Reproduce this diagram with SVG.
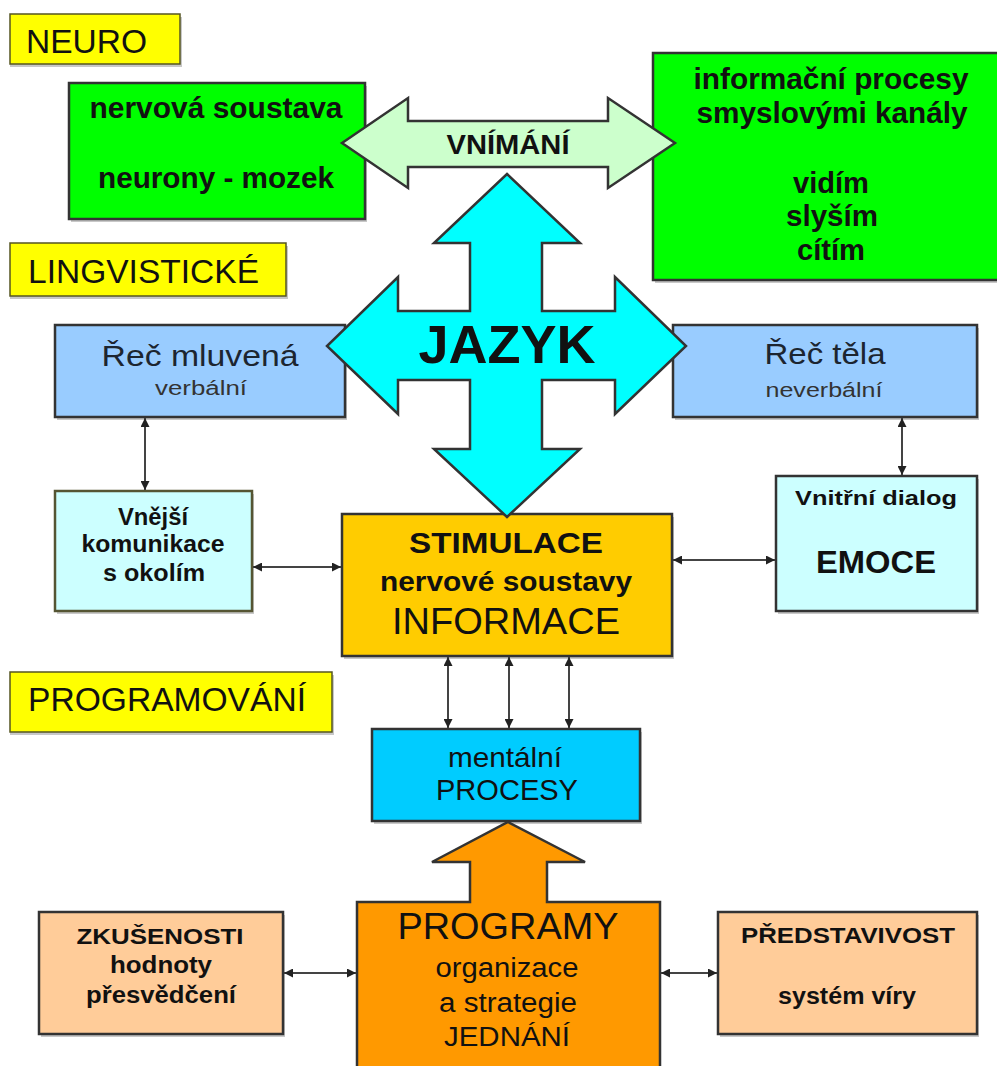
<svg xmlns="http://www.w3.org/2000/svg" width="997" height="1066" viewBox="0 0 997 1066">
<style>
text{font-family:"Liberation Sans",Arial,sans-serif;fill:#111;}
.c{text-anchor:middle;}
.b{font-weight:bold;}
.box{stroke:#333;stroke-width:2.5;}
.lbl{stroke:#555522;stroke-width:1.5;fill:#ffff00;}
.sh{fill:#c8c8c8;}
.con{stroke:#444;stroke-width:2;fill:none;marker-start:url(#ah);marker-end:url(#ah);}
.shape{stroke:#333;stroke-width:2.5;stroke-linejoin:miter;}
</style>
<defs>
<marker id="ah" markerUnits="userSpaceOnUse" markerWidth="9" markerHeight="9" refX="9" refY="4.5" orient="auto-start-reverse">
<path d="M0,0 L9,4.5 L0,9 z" fill="#222"/>
</marker>
</defs>
<rect width="997" height="1066" fill="#fff"/>

<g id="neuro">
<rect class="sh" x="10" y="17" width="172" height="50"/>
<rect class="lbl" x="10" y="14" width="170" height="50"/>
<text x="26" y="53" font-size="33" textLength="121" lengthAdjust="spacingAndGlyphs">NEURO</text>
</g>

<g id="lingvisticke">
<rect class="sh" x="10" y="246" width="278" height="53"/>
<rect class="lbl" x="10" y="243" width="276" height="53"/>
<text x="28" y="283" font-size="33" textLength="231" lengthAdjust="spacingAndGlyphs">LINGVISTICKÉ</text>
</g>

<g id="programovani">
<rect class="sh" x="10" y="675" width="324" height="60"/>
<rect class="lbl" x="10" y="672" width="322" height="60"/>
<text x="28" y="711" font-size="33" textLength="278" lengthAdjust="spacingAndGlyphs">PROGRAMOVÁNÍ</text>
</g>

<g id="nervova">
<rect class="sh" x="71" y="86" width="296" height="136"/>
<rect class="box" x="69" y="83" width="296" height="136" fill="#00ff00"/>
<text class="c b" x="216" y="118" font-size="29" textLength="253" lengthAdjust="spacingAndGlyphs">nervová soustava</text>
<text class="c b" x="216" y="188" font-size="29" textLength="236" lengthAdjust="spacingAndGlyphs">neurony - mozek</text>
</g>

<g id="informacni">
<rect class="sh" x="655" y="56" width="350" height="227"/>
<rect class="box" x="653" y="53" width="350" height="227" fill="#00ff00"/>
<text class="c b" x="831" y="89" font-size="29" textLength="275" lengthAdjust="spacingAndGlyphs">informační procesy</text>
<text class="c b" x="832" y="123" font-size="29" textLength="271" lengthAdjust="spacingAndGlyphs">smyslovými kanály</text>
<text class="c b" x="831" y="193" font-size="29" textLength="76" lengthAdjust="spacingAndGlyphs">vidím</text>
<text class="c b" x="832" y="226" font-size="29" textLength="92" lengthAdjust="spacingAndGlyphs">slyším</text>
<text class="c b" x="831" y="260" font-size="29" textLength="68" lengthAdjust="spacingAndGlyphs">cítím</text>
</g>

<g id="rec-mluvena">
<rect class="sh" x="57" y="328" width="290" height="92"/>
<rect class="box" x="55" y="325" width="290" height="92" fill="#99ccff"/>
<text class="c" x="200" y="366" font-size="30" textLength="197" lengthAdjust="spacingAndGlyphs" style="fill:#1c2530">Řeč mluvená</text>
<text class="c" x="201" y="395" font-size="20" textLength="92" lengthAdjust="spacingAndGlyphs" style="fill:#333">verbální</text>
</g>

<g id="rec-tela">
<rect class="sh" x="675" y="328" width="304" height="92"/>
<rect class="box" x="673" y="325" width="304" height="92" fill="#99ccff"/>
<text class="c" x="825" y="364" font-size="30" textLength="121" lengthAdjust="spacingAndGlyphs" style="fill:#1c2530">Řeč těla</text>
<text class="c" x="824" y="397" font-size="20" textLength="117" lengthAdjust="spacingAndGlyphs" style="fill:#333">neverbální</text>
</g>

<g id="vnejsi">
<rect class="sh" x="57" y="494" width="197" height="120"/>
<rect x="55" y="491" width="197" height="120" fill="#ccffff" stroke="#555533" stroke-width="2.5"/>
<text class="c b" x="153" y="525" font-size="23" textLength="70" lengthAdjust="spacingAndGlyphs">Vnější</text>
<text class="c b" x="153" y="552" font-size="23" textLength="143" lengthAdjust="spacingAndGlyphs">komunikace</text>
<text class="c b" x="154" y="581" font-size="23" textLength="102" lengthAdjust="spacingAndGlyphs">s okolím</text>
</g>

<g id="stimulace">
<rect class="sh" x="344" y="517" width="330" height="142"/>
<rect class="box" x="342" y="514" width="330" height="142" fill="#ffcc00"/>
<text class="c b" x="506" y="553" font-size="30" textLength="194" lengthAdjust="spacingAndGlyphs">STIMULACE</text>
<text class="c b" x="506" y="591" font-size="28" textLength="252" lengthAdjust="spacingAndGlyphs">nervové soustavy</text>
<text class="c" x="506" y="634" font-size="37" textLength="228" lengthAdjust="spacingAndGlyphs">INFORMACE</text>
</g>

<g id="vnitrni">
<rect class="sh" x="778" y="479" width="201" height="135"/>
<rect class="box" x="776" y="476" width="201" height="135" fill="#ccffff"/>
<text class="c b" x="876" y="505" font-size="21" textLength="162" lengthAdjust="spacingAndGlyphs">Vnitřní dialog</text>
<text class="c b" x="876" y="573" font-size="31" textLength="120" lengthAdjust="spacingAndGlyphs">EMOCE</text>
</g>

<g id="mentalni">
<rect class="sh" x="374" y="732" width="268" height="92"/>
<rect class="box" x="372" y="729" width="268" height="92" fill="#00ccff"/>
<text class="c" x="505" y="767" font-size="28" textLength="114" lengthAdjust="spacingAndGlyphs">mentální</text>
<text class="c" x="507" y="800" font-size="29" textLength="142" lengthAdjust="spacingAndGlyphs">PROCESY</text>
</g>

<g id="zkusenosti">
<rect class="sh" x="41" y="915" width="244" height="122"/>
<rect class="box" x="39" y="912" width="244" height="122" fill="#ffcc99"/>
<text class="c b" x="160" y="944" font-size="22" textLength="167" lengthAdjust="spacingAndGlyphs">ZKUŠENOSTI</text>
<text class="c b" x="161" y="973" font-size="23" textLength="102" lengthAdjust="spacingAndGlyphs">hodnoty</text>
<text class="c b" x="161" y="1003" font-size="23" textLength="150" lengthAdjust="spacingAndGlyphs">přesvědčení</text>
</g>

<g id="predstavivost">
<rect class="sh" x="720" y="915" width="259" height="122"/>
<rect class="box" x="718" y="912" width="259" height="122" fill="#ffcc99"/>
<text class="c b" x="848" y="943" font-size="22" textLength="214" lengthAdjust="spacingAndGlyphs">PŘEDSTAVIVOST</text>
<text class="c b" x="847" y="1004" font-size="23" textLength="138" lengthAdjust="spacingAndGlyphs">systém víry</text>
</g>

<g id="vnimani">
<polygon class="shape" fill="#ccffcc" points="342,143 408,98 408,121 608,121 608,98 675,143 608,188 608,167 408,167 408,188"/>
<text class="c b" x="508" y="154" font-size="28" textLength="123" lengthAdjust="spacingAndGlyphs">VNÍMÁNÍ</text>
</g>

<g id="jazyk">
<polygon class="shape" fill="#00ffff" points="507,174 580,243 542,243 542,311 615,311 615,277 686,346 615,414 615,380 542,380 542,449 580,449 507,517 434,449 470,449 470,380 398,380 398,414 327,346 398,277 398,311 470,311 470,243 434,243"/>
<text class="c b" x="507" y="363" font-size="54" textLength="177" lengthAdjust="spacingAndGlyphs">JAZYK</text>
</g>

<g id="programy">
<polygon class="shape" fill="#ff9900" points="508,822 585,862 547,862 547,902 660,902 660,1070 357,1070 357,902 470,902 470,862 432,862"/>
<text class="c" x="508" y="939" font-size="37" textLength="221" lengthAdjust="spacingAndGlyphs">PROGRAMY</text>
<text class="c" x="507" y="977" font-size="27" textLength="143" lengthAdjust="spacingAndGlyphs">organizace</text>
<text class="c" x="508" y="1012" font-size="27" textLength="138" lengthAdjust="spacingAndGlyphs">a strategie</text>
<text class="c" x="507" y="1046" font-size="28" textLength="126" lengthAdjust="spacingAndGlyphs">JEDNÁNÍ</text>
</g>

<g id="connectors">
<line class="con" x1="145" y1="418" x2="145" y2="490"/>
<line class="con" x1="902" y1="418" x2="902" y2="475"/>
<line class="con" x1="253" y1="567" x2="341" y2="567"/>
<line class="con" x1="673" y1="560" x2="775" y2="560"/>
<line class="con" x1="448" y1="657" x2="448" y2="728"/>
<line class="con" x1="509" y1="657" x2="509" y2="728"/>
<line class="con" x1="569" y1="657" x2="569" y2="728"/>
<line class="con" x1="284" y1="973" x2="356" y2="973"/>
<line class="con" x1="661" y1="973" x2="717" y2="973"/>
</g>
</svg>
